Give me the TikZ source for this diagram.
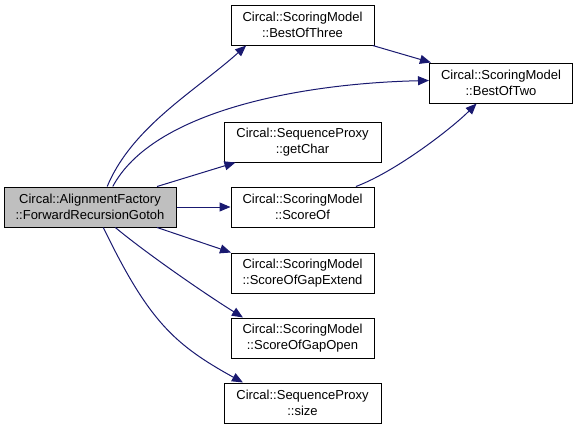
\documentclass[tikz,border=0pt]{standalone}
\usepackage{fontspec}
\setmainfont{Liberation Sans}
\usetikzlibrary{arrows.meta}
\definecolor{graphEdge}{HTML}{191970}
\definecolor{graphRootBg}{HTML}{BFBFBF}

\begin{document}
\begin{tikzpicture}[
    x=1pt,y=-1pt,>=Latex,
    every node/.style={font=\fontsize{13}{16}\selectfont,align=center,inner sep=0pt},
    func/.style={draw=black,fill=white,line width=1pt,minimum height=40pt,minimum width=143pt},
    wide/.style={func,minimum width=157pt},
    root/.style={func,fill=graphRootBg,minimum width=172pt},
    call/.style={-{Triangle[length=11pt,width=9pt]},draw=graphEdge,line width=1pt}
]
\useasboundingbox (0,0) rectangle (579,429);
\node[root] (forward) at (90,207) {Circal::AlignmentFactory\\::ForwardRecursionGotoh};
\node[func] (bestThree) at (302.5,25) {Circal::ScoringModel\\::BestOfThree};
\node[func] (bestTwo) at (501,83) {Circal::ScoringModel\\::BestOfTwo};
\node[wide] (getChar) at (302.5,142) {Circal::SequenceProxy\\::getChar};
\node[func] (scoreOf) at (302.5,207) {Circal::ScoringModel\\::ScoreOf};
\node[func] (gapExtend) at (302.5,273) {Circal::ScoringModel\\::ScoreOfGapExtend};
\node[func] (gapOpen) at (302.5,338) {Circal::ScoringModel\\::ScoreOfGapOpen};
\node[wide] (size) at (302.5,403) {Circal::SequenceProxy\\::size};
\draw[call] (forward.50) .. controls +(25,-60) and +(-50,45) .. (bestThree.200);
\draw[call] (forward.42) .. controls +(40,-75) and +(-130,3) .. (bestTwo.178);
\draw[call] (forward.17) -- (getChar.197);
\draw[call] (forward) -- (scoreOf);
\draw[call] (forward.343) -- (gapExtend.164);
\draw[call] (forward.321) .. controls +(30,25) and +(-40,-25) .. (gapOpen.161);
\draw[call] (forward.303) .. controls +(45,93) and +(-69,-38) .. (size.161);
\draw[call] (bestThree) -- (bestTwo);
\draw[call] (scoreOf.21) .. controls +(40,-15) and +(-25,25) .. (bestTwo.220);
\end{tikzpicture}
\end{document}
